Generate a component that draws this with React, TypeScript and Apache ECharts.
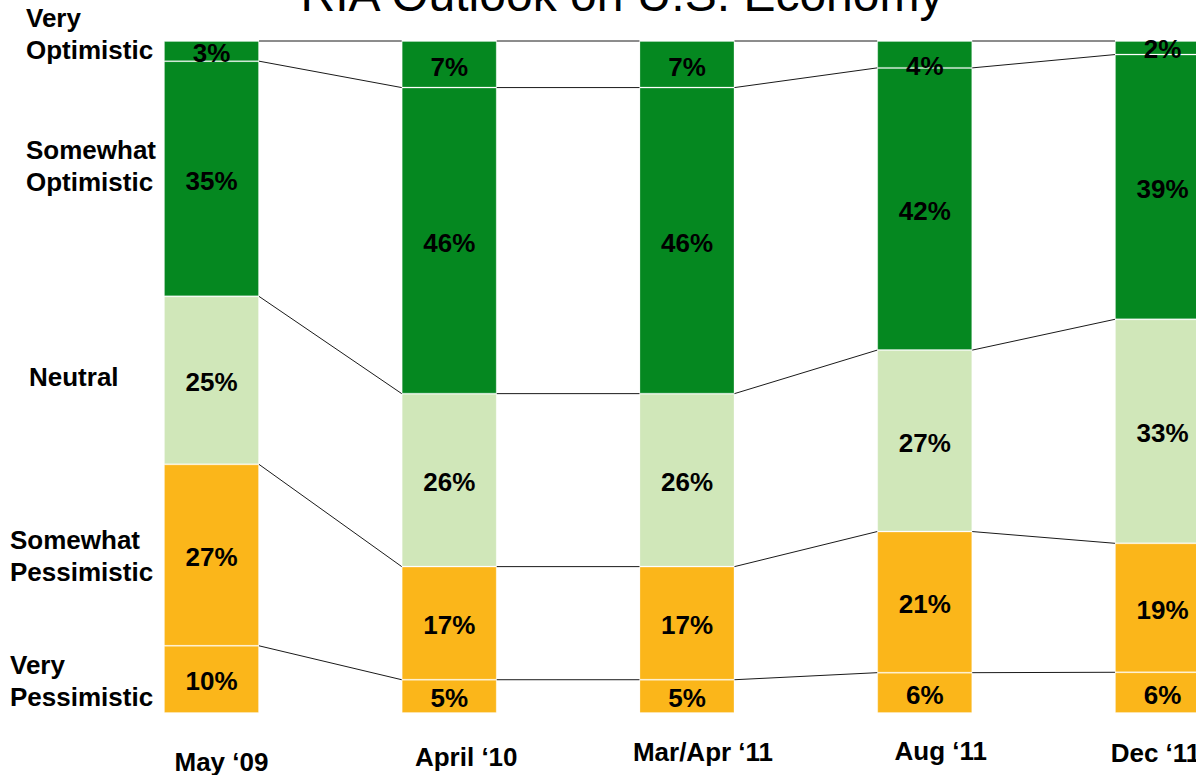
import React, { useEffect, useRef } from "react";
import * as echarts from "echarts";

const categories = ["May \u201809", "April \u201810", "Mar/Apr \u201811", "Aug \u201811", "Dec \u201811"];
const veryOptimistic = [3, 7, 7, 4, 2];
const somewhatOptimistic = [35, 46, 46, 42, 39];
const neutral = [25, 26, 26, 27, 33];
const somewhatPessimistic = [27, 17, 17, 21, 19];
const veryPessimistic = [10, 5, 5, 6, 6];
const sideLabels = ["Very\nOptimistic", "Somewhat\nOptimistic", "Neutral", "Somewhat\nPessimistic", "Very\nPessimistic"];
const title = "RIA Outlook on U.S. Economy";

// layout / style (not data)
const FONT = "'Liberation Sans', Arial, sans-serif";
const BAR_W = 95;
const labelShift = [
  { dx: 10, dy: 11 },
  { dx: 17, dy: 6 },
  { dx: 16, dy: 1 },
  { dx: 16, dy: 0 },
  { dx: -7, dy: 2 },
];
const sidePos = [
  { x: 26, y: 34 },
  { x: 26, y: 166 },
  { x: 29, y: 377 },
  { x: 10, y: 556 },
  { x: 10, y: 681 },
];
// per-series (top-down) extra label offsets by category index
const veryOptLabelDy = [2, 3, 3, 12, 1];

export default function App() {
  const ref = useRef<HTMLDivElement>(null);
  useEffect(() => {
    if (!ref.current) return;
    const chart = echarts.init(ref.current, null, { renderer: "svg" });

    const topDown = [veryOptimistic, somewhatOptimistic, neutral, somewhatPessimistic, veryPessimistic];
    const sums = categories.map((_, i) => topDown.reduce((s, arr) => s + arr[i], 0));
    const norm = (arr: number[]) => arr.map((v, i) => (v / sums[i]) * 100);

    const boundaries: number[][] = categories.map((_, i) => {
      const b: number[] = [];
      let acc = 100;
      b.push(acc);
      for (let k = 0; k < topDown.length - 1; k++) {
        acc -= (topDown[k][i] / sums[i]) * 100;
        b.push(acc);
      }
      return b;
    });
    const connectorData: number[][] = [];
    for (let i = 0; i < categories.length - 1; i++) {
      for (let k = 0; k < boundaries[i].length; k++) {
        connectorData.push([i, boundaries[i][k], boundaries[i + 1][k]]);
      }
    }

    const GREEN = "#058820";
    const LIGHT = "#d0e7b9";
    const ORANGE = "#fbb61a";

    const mkBar = (name: string, raw: number[], color: string, dys?: number[]) => ({
      name,
      type: "bar",
      stack: "all",
      barWidth: BAR_W,
      data: norm(raw).map((v, i) =>
        dys ? { value: v, label: { offset: [0, dys[i]] } } : v
      ),
      itemStyle: { color, borderColor: "rgba(255,255,255,0.25)", borderWidth: 1 },
      label: {
        show: true,
        position: "inside",
        offset: [0, 2],
        fontFamily: FONT,
        fontSize: 26,
        fontWeight: "bold",
        color: "#000",
        formatter: (p: any) => raw[p.dataIndex] + "%",
      },
      z: 2,
    });

    chart.setOption({
      animation: false,
      backgroundColor: "#fff",
      grid: {
        left: 92.6,
        width: 1188.75,
        top: 41,
        bottom: 62,
        containLabel: false,
        outerBoundsMode: "none",
      },
      xAxis: {
        type: "category",
        data: categories.map((c, i) => ({
          value: c,
          textStyle: {
            padding: [
              Math.max(0, labelShift[i].dy),
              Math.max(0, -labelShift[i].dx * 2),
              0,
              Math.max(0, labelShift[i].dx * 2),
            ],
          },
        })),
        axisLine: { show: false },
        axisTick: { show: false },
        axisLabel: {
          interval: 0,
          margin: 25,
          fontFamily: FONT,
          fontSize: 26,
          fontWeight: "bold",
          color: "#000",
        },
      },
      yAxis: { type: "value", min: 0, max: 100, show: false, splitLine: { show: false } },
      series: [
        mkBar("Very Pessimistic", veryPessimistic, ORANGE),
        mkBar("Somewhat Pessimistic", somewhatPessimistic, ORANGE),
        mkBar("Neutral", neutral, LIGHT),
        mkBar("Somewhat Optimistic", somewhatOptimistic, GREEN),
        mkBar("Very Optimistic", veryOptimistic, GREEN, veryOptLabelDy),
        {
          type: "custom",
          coordinateSystem: "cartesian2d",
          data: connectorData,
          encode: { x: 0, y: 1 },
          z: 1,
          silent: true,
          renderItem: (params: any, api: any) => {
            const i = api.value(0);
            const p1 = api.coord([i, api.value(1)]);
            const p2 = api.coord([i + 1, api.value(2)]);
            return {
              type: "line",
              shape: { x1: p1[0] + BAR_W / 2, y1: p1[1], x2: p2[0] - BAR_W / 2, y2: p2[1] },
              style: { stroke: "#1a1a1a", lineWidth: 1 },
            };
          },
        },
      ],
      graphic: [
        {
          type: "text",
          x: 622,
          y: -6,
          style: {
            text: title,
            font: `48px ${FONT}`,
            fill: "#000",
            align: "center",
            verticalAlign: "middle",
          },
        },
        ...sideLabels.map((t, i) => ({
          type: "text",
          x: sidePos[i].x,
          y: sidePos[i].y,
          style: {
            text: t,
            font: `bold 26px ${FONT}`,
            lineHeight: 32,
            fill: "#000",
            align: "left",
            verticalAlign: "middle",
          },
        })),
      ],
    });
    return () => chart.dispose();
  }, []);
  return <div ref={ref} style={{ position: "fixed", left: 0, top: 0, width: 1196, height: 775 }} />;
}
